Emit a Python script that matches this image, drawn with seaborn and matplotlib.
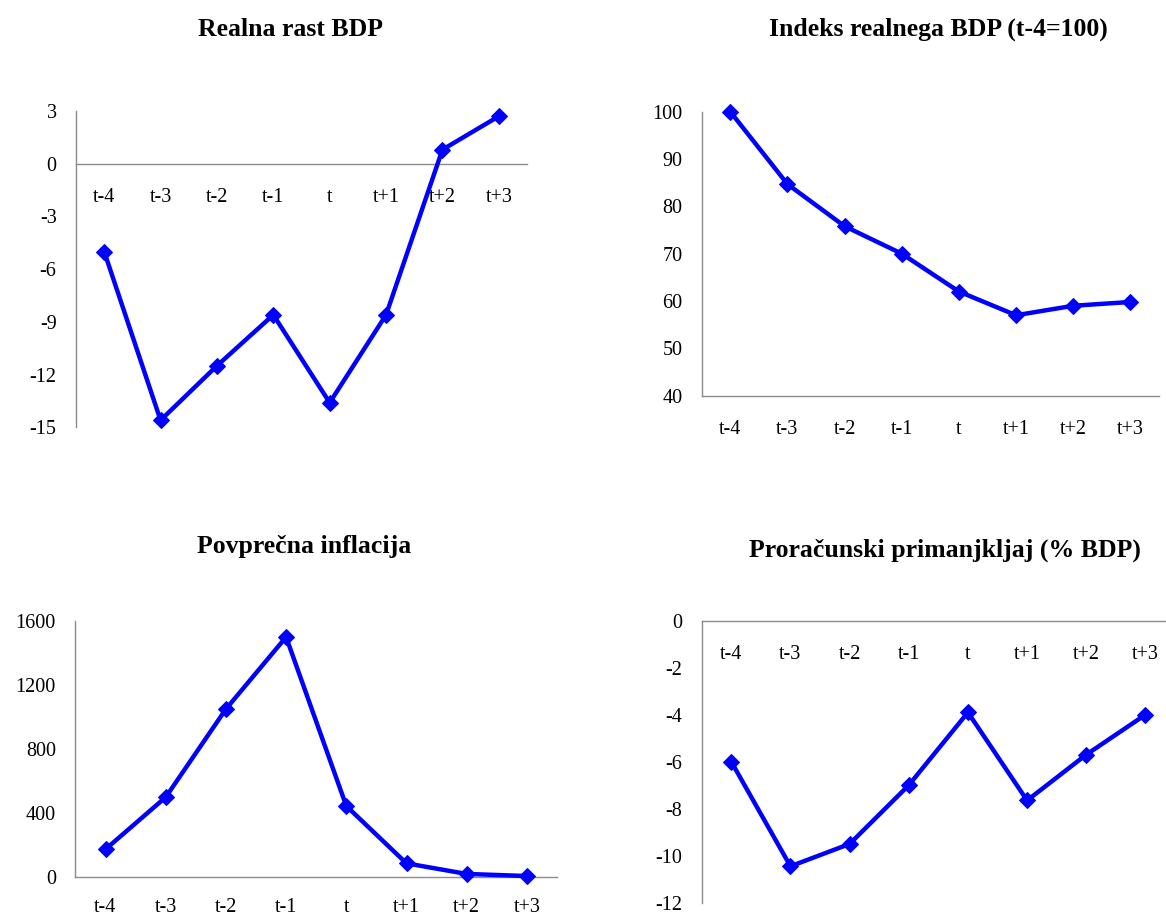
import numpy as np
import pandas as pd
import matplotlib
matplotlib.use("Agg")
import matplotlib.pyplot as plt
import seaborn as sns

sns.set_theme(style="white")
plt.rcParams["font.family"] = ["Liberation Serif", "DejaVu Serif"]
plt.rcParams["axes.unicode_minus"] = False

# Periods and series
periods = ["t-4", "t-3", "t-2", "t-1", "t", "t+1", "t+2", "t+3"]
real_growth = [-5.0, -14.6, -11.5, -8.6, -13.6, -8.6, 0.8, 2.7]
gdp_index = [100.0, 84.7, 75.8, 70.0, 62.0, 57.0, 59.0, 59.8]
inflation = [175, 500, 1050, 1500, 445, 87, 21, 8]
budget_deficit = [-6.0, -10.45, -9.5, -7.0, -3.9, -7.65, -5.7, -4.0]

titles = [
    "Realna rast BDP",
    "Indeks realnega BDP (t-4=100)",
    "Povprečna inflacija",
    "Proračunski primanjkljaj (% BDP)",
]

W, H = 1166, 918
fig = plt.figure(figsize=(W / 100, H / 100), dpi=100)


def px_axes(x0, x1, ytop, ybot):
    return fig.add_axes([x0 / W, 1 - ybot / H, (x1 - x0) / W, (ybot - ytop) / H])


LINE = "#0000FF"
SPINE = "#8C8C8C"
TICKFS = 14.5


def draw(ax, values, ylim, yticks, zero_axis=False, xpad=17.5):
    if zero_axis:
        ax.spines["bottom"].set_position(("data", 0))
    df = pd.DataFrame({"period": periods, "value": values})
    sns.lineplot(data=df, x="period", y="value", ax=ax, sort=False,
                 color=LINE, linewidth=3.2, marker="D", markersize=8.5,
                 markeredgecolor=LINE, markerfacecolor=LINE, clip_on=False,
                 zorder=5)
    ax.set_xlim(-0.5, len(periods) - 0.5)
    ax.set_ylim(*ylim)
    ax.set_yticks(yticks)
    ax.set_yticklabels([f"{v:g}" for v in yticks])
    ax.set_xticks(range(len(periods)))
    ax.set_xticklabels(periods)
    ax.set_xticks(np.arange(-0.5, len(periods), 1), minor=True)
    ax.set_xlabel("")
    ax.set_ylabel("")
    for s in ("top", "right"):
        ax.spines[s].set_visible(False)
    for s in ("left", "bottom"):
        ax.spines[s].set_color(SPINE)
        ax.spines[s].set_linewidth(1.0)
    ax.tick_params(axis="x", which="major", length=0, pad=xpad,
                   labelsize=TICKFS, labelcolor="black")
    ax.tick_params(axis="x", which="minor", length=5, width=1.0,
                   direction="out", color=SPINE)
    ax.tick_params(axis="y", which="major", length=5, width=1.0,
                   direction="out", color=SPINE, pad=9,
                   labelsize=TICKFS, labelcolor="black")
    ax.grid(False)
    ax.set_facecolor("none")


ax1 = px_axes(76, 527, 111, 427.3)
draw(ax1, real_growth, (-15, 3), np.arange(-15, 4, 3), zero_axis=True)

ax2 = px_axes(701.7, 1159, 111.7, 395.7)
draw(ax2, gdp_index, (40, 100), np.arange(40, 101, 10))

ax3 = px_axes(75.4, 557, 621, 877.3)
draw(ax3, inflation, (0, 1600), np.arange(0, 1601, 400), xpad=15)

ax4 = px_axes(701.7, 1175, 620.7, 902.7)
draw(ax4, budget_deficit, (-12, 0), np.arange(-12, 1, 2), zero_axis=True)

title_pos = [(291, 29), (938, 29), (304, 547), (945, 550)]
for text, (x, y) in zip(titles, title_pos):
    fig.text(x / W, 1 - y / H, text, ha="center", va="center",
             fontsize=18.5, fontweight="bold", color="black")

fig.savefig("out.png", dpi=100, facecolor="white")
